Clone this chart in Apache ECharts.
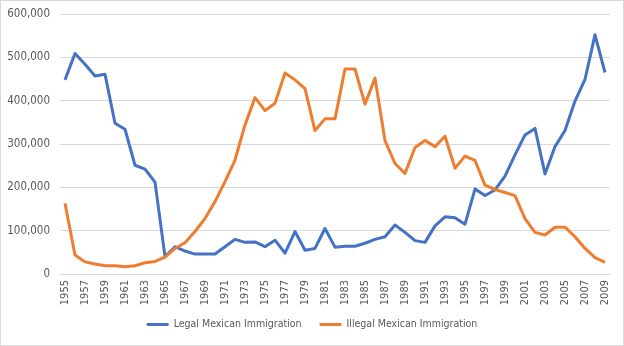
<!DOCTYPE html>
<html>
<head>
<meta charset="utf-8">
<script src="https://cdn.jsdelivr.net/npm/echarts@6/dist/echarts.min.js"></script>
<style>
  html, body { margin: 0; padding: 0; background: #fff; }
  #chart { width: 622px; height: 344px; border: 1px solid #d9d9d9; }
</style>
</head>
<body>
<div id="chart"></div>
<script>
// Years 1955–2009
const years = [];
for (let y = 1955; y <= 2009; y++) years.push(String(y));

const legalMexican = [
  448000, 509000, 484000, 457000, 461000, 348000, 334000, 251000, 242000, 212000,
  40000, 63000, 53000, 46000, 46000, 46000, 63000, 80000, 73000, 74000,
  63000, 78000, 48000, 98000, 55000, 59000, 105000, 62000, 64000, 64000,
  71000, 80000, 86000, 113000, 96000, 77000, 73000, 111000, 132000, 130000,
  115000, 196000, 181000, 194000, 226000, 275000, 321000, 336000, 231000, 294000,
  331000, 399000, 449000, 552000, 465000
];

const illegalMexican = [
  163000, 44000, 28000, 23000, 19000, 19000, 17000, 19000, 26000, 29000,
  39000, 59000, 72000, 98000, 128000, 167000, 213000, 263000, 344000, 407000,
  377000, 394000, 464000, 448000, 428000, 331000, 358000, 358000, 473000, 473000,
  392000, 452000, 308000, 255000, 232000, 292000, 308000, 294000, 318000, 244000,
  272000, 262000, 205000, 195000, 188000, 181000, 128000, 96000, 90000, 108000,
  108000, 86000, 59000, 38000, 27000
];

const yTicks = { min: 0, max: 600000, interval: 100000 };

const font = 'DejaVu Sans Condensed, Liberation Sans, Arial, sans-serif';
const textColor = '#595959';

const chart = echarts.init(document.getElementById('chart'));
chart.setOption({
  animation: false,
  grid: { left: 59, right: 13, top: 13, bottom: 71 },
  xAxis: {
    type: 'category',
    data: years,
    boundaryGap: true,
    axisLine: { lineStyle: { color: '#d9d9d9' } },
    axisTick: { show: false },
    axisLabel: {
      interval: 1,
      rotate: 90,
      margin: 6,
      color: textColor,
      fontFamily: font,
      fontSize: 11
    }
  },
  yAxis: {
    type: 'value',
    min: yTicks.min,
    max: yTicks.max,
    interval: yTicks.interval,
    axisLine: { show: false },
    axisTick: { show: false },
    splitLine: { lineStyle: { color: '#d9d9d9' } },
    axisLabel: {
      margin: 10,
      color: textColor,
      fontFamily: font,
      fontSize: 11.5,
      formatter: v => v.toLocaleString('en-US')
    }
  },
  legend: {
    bottom: 10,
    left: 'center',
    itemGap: 18,
    itemWidth: 22,
    itemHeight: 3,
    icon: 'roundRect',
    textStyle: { color: textColor, fontFamily: font, fontSize: 10.5 },
    data: ['Legal Mexican Immigration', 'Illegal Mexican Immigration']
  },
  series: [
    {
      name: 'Legal Mexican Immigration',
      type: 'line',
      data: legalMexican,
      showSymbol: false,
      symbol: 'none',
      color: '#4472C4',
      lineStyle: { width: 3, color: '#4472C4', join: 'round' }
    },
    {
      name: 'Illegal Mexican Immigration',
      type: 'line',
      data: illegalMexican,
      showSymbol: false,
      symbol: 'none',
      color: '#ED7D31',
      lineStyle: { width: 3, color: '#ED7D31', join: 'round' }
    }
  ]
});
</script>
</body>
</html>
